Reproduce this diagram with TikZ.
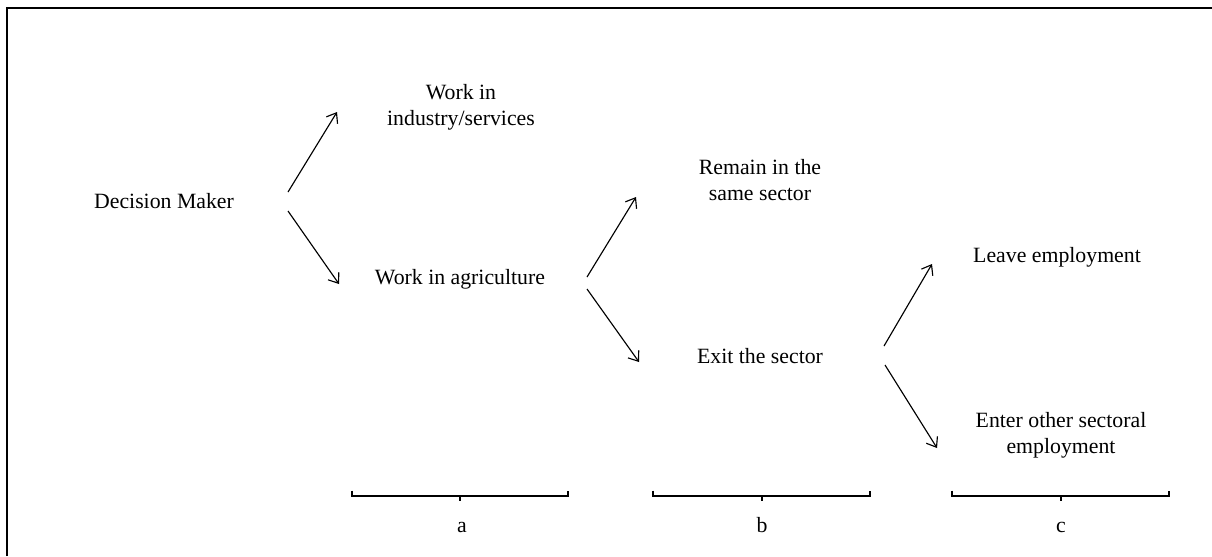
\documentclass[tikz,border=0pt]{standalone}
\usepackage{fontspec}
\setmainfont{Liberation Serif}
\usetikzlibrary{arrows.meta}
\begin{document}
\begin{tikzpicture}[x=0.02cm,y=-0.02cm,
  lbl/.style={inner sep=0pt,outer sep=0pt,anchor=base,align=center,font=\fontsize{12.4}{14.6}\selectfont},
  arr/.style={line width=0.65pt,-{Straight Barb[length=5pt,width=7.5pt,line width=0.65pt]}},
  brk/.style={line width=0.75pt},
  frame/.style={line width=1.6pt}]
\useasboundingbox (0,0) rectangle (1212,556);
% frame
\coordinate (f1) at (7,556);
\coordinate (f2) at (7,8);
\coordinate (f3) at (1212,8);
\draw[frame] (f1) -- (f2) -- (f3);
% texts
\node[lbl] (dm) at (164,208) {Decision Maker};
\node[lbl] (wis) at (461,125) {Work in\\industry/services};
\node[lbl] (wa) at (460,284) {Work in agriculture};
\node[lbl] (rs) at (760,200) {Remain in the\\same sector};
\node[lbl] (ex) at (760,363) {Exit the sector};
\node[lbl] (le) at (1057,262) {Leave employment};
\node[lbl] (eo) at (1061,453) {Enter other sectoral\\employment};
\node[lbl] (la) at (462,532) {a};
\node[lbl] (lb) at (762,532) {b};
\node[lbl] (lc) at (1061,532) {c};
% arrow ends
\coordinate (a1s) at (288,192); \coordinate (a1e) at (337,112);
\coordinate (a2s) at (288,211); \coordinate (a2e) at (339,284);
\coordinate (a3s) at (587,277); \coordinate (a3e) at (636,197);
\coordinate (a4s) at (587,289); \coordinate (a4e) at (639,362);
\coordinate (a5s) at (884,346); \coordinate (a5e) at (932,264);
\coordinate (a6s) at (885,365); \coordinate (a6e) at (937,448);
\draw[arr] (a1s) -- (a1e);
\draw[arr] (a2s) -- (a2e);
\draw[arr] (a3s) -- (a3e);
\draw[arr] (a4s) -- (a4e);
\draw[arr] (a5s) -- (a5e);
\draw[arr] (a6s) -- (a6e);
% brackets
\coordinate (ba1) at (352,496); \coordinate (ba2) at (568,496); \coordinate (bam) at (460,496);
\coordinate (bb1) at (653,496); \coordinate (bb2) at (870,496); \coordinate (bbm) at (762,496);
\coordinate (bc1) at (952,496); \coordinate (bc2) at (1169,496); \coordinate (bcm) at (1061,496);
\draw[brk] ([yshift=3]ba1) -- (ba1) -- (ba2) -- ([yshift=3]ba2);
\draw[brk] (bam) -- ([yshift=-3]bam);
\draw[brk] ([yshift=3]bb1) -- (bb1) -- (bb2) -- ([yshift=3]bb2);
\draw[brk] (bbm) -- ([yshift=-3]bbm);
\draw[brk] ([yshift=3]bc1) -- (bc1) -- (bc2) -- ([yshift=3]bc2);
\draw[brk] (bcm) -- ([yshift=-3]bcm);
\end{tikzpicture}
\end{document}
